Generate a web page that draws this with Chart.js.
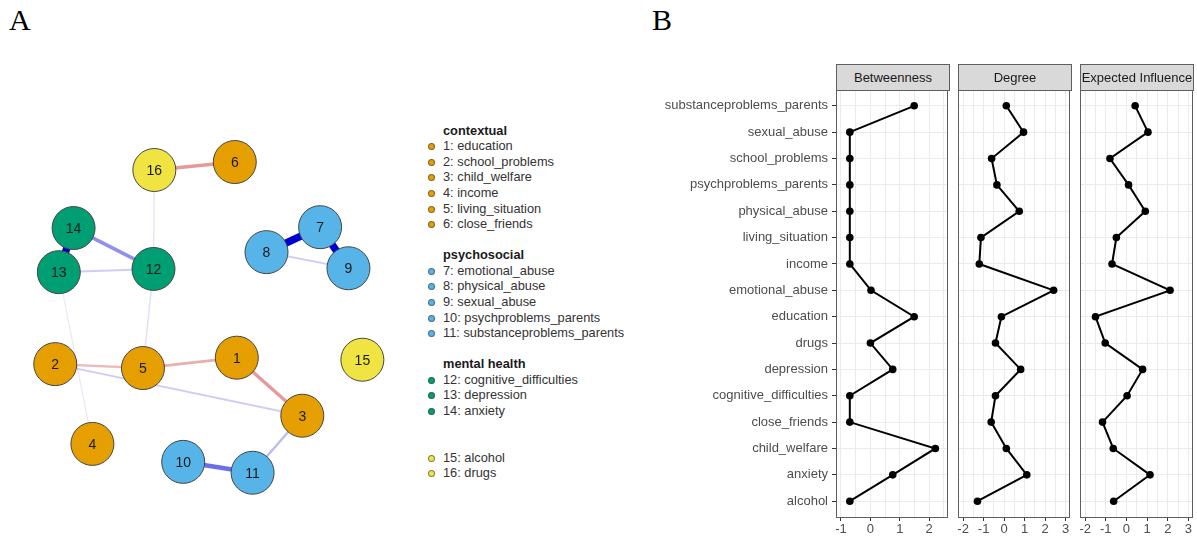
<!DOCTYPE html>
<html>
<head>
<meta charset="utf-8">
<script src="https://cdn.jsdelivr.net/npm/chart.js@4.4.1/dist/chart.umd.min.js"></script>
<style>
  body { margin: 0; background: #fff; }
  #page { position: relative; width: 1197px; height: 540px; overflow: hidden; font-family: "Liberation Sans", Arial, sans-serif; }
  canvas { position: absolute; }
  .letter { position: absolute; top: 5px; font-family: "Liberation Serif", "Times New Roman", serif; font-size: 30px; line-height: 30px; color: #000; }
  .strip { position: absolute; top: 64px; height: 27px; box-sizing: border-box; border: 1px solid #5f5f5f; background: #D9D9D9;
           display: flex; justify-content: center; align-items: center; overflow: hidden; white-space: nowrap; font-size: 13px; color: #1A1A1A; }
  .leg { position: absolute; left: 443px; height: 16px; line-height: 16px; font-size: 12.8px; color: #333; white-space: nowrap; }
  .leg b { color: #1a1a1a; }
  .dot { position: absolute; width: 5px; height: 5px; border-radius: 50%; }
</style>
</head>
<body>
<div id="page">
  <div class="letter" style="left:9px">A</div>
  <div class="letter" style="left:652px">B</div>
  <canvas id="netChart" width="420" height="420" style="left:0px; top:100px"></canvas>
  <canvas id="betChart" width="312" height="454" style="left:640px; top:86px"></canvas>
  <canvas id="degChart" width="122" height="454" style="left:952px; top:86px"></canvas>
  <canvas id="eiChart" width="123" height="454" style="left:1074px; top:86px"></canvas>
  <div class="strip" style="left:836px; width:114px">Betweenness</div>
  <div class="strip" style="left:958px; width:114px">Degree</div>
  <div class="strip" style="left:1080px; width:114px">Expected Influence</div>
</div>
<script>
// ---- panel A: network ----
const groupNames = ['contextual', 'psychosocial', 'mental health', ''];
const groupColors = ['#E69F00', '#56B4E9', '#009E73', '#F0E442'];
const nodeNames = ['education', 'school_problems', 'child_welfare', 'income', 'living_situation', 'close_friends',
  'emotional_abuse', 'physical_abuse', 'sexual_abuse', 'psychproblems_parents', 'substanceproblems_parents',
  'cognitive_difficulties', 'depression', 'anxiety', 'alcohol', 'drugs'];
const nodeGroup = [0, 0, 0, 0, 0, 0, 1, 1, 1, 1, 1, 2, 2, 2, 3, 3];
// layout coordinates of nodes 1..16
const nodeX = [0.158, -0.912, 0.544, -0.693, -0.395, 0.146, 0.649, 0.333, 0.816, -0.158, 0.251, -0.333, -0.891, -0.804, 0.898, -0.328];
const nodeY = [-0.281, -0.319, -0.623, -0.789, -0.342, 0.872, 0.488, 0.341, 0.246, -0.895, -0.959, 0.242, 0.223, 0.483, -0.293, 0.825];
// edges (node numbers) and partial correlation weights
const edgeFrom   = [7, 7, 13, 10, 12, 3, 8, 12, 2, 5, 12, 4, 6, 1, 1, 2];
const edgeTo     = [8, 9, 14, 11, 14, 11, 9, 13, 3, 12, 16, 13, 16, 3, 5, 5];
const edgeWeight = [0.55, 0.55, 0.55, 0.3, 0.22, 0.12, 0.08, 0.08, 0.08, 0.04, 0.03, 0.02, -0.2, -0.2, -0.15, -0.12];

// ---- panel B: centrality ----
const measures = ['alcohol', 'anxiety', 'child_welfare', 'close_friends', 'cognitive_difficulties', 'depression', 'drugs',
  'education', 'emotional_abuse', 'income', 'living_situation', 'physical_abuse', 'psychproblems_parents',
  'school_problems', 'sexual_abuse', 'substanceproblems_parents'];
const betweenness = [-0.7, 0.76, 2.21, -0.7, -0.7, 0.76, 0.0, 1.49, 0.02, -0.7, -0.7, -0.7, -0.7, -0.7, -0.7, 1.49];
const degree = [-1.30, 1.11, 0.11, -0.63, -0.42, 0.81, -0.42, -0.13, 2.42, -1.21, -1.13, 0.74, -0.35, -0.61, 0.95, 0.11];
const expectedInfluence = [-0.62, 1.14, -0.64, -1.16, 0.03, 0.78, -1.03, -1.50, 2.11, -0.70, -0.49, 0.91, 0.10, -0.80, 1.04, 0.42];

Chart.defaults.font.family = '"Liberation Sans", Arial, sans-serif';
Chart.defaults.font.size = 13;
Chart.defaults.color = '#4D4D4D';
Chart.defaults.animation = false;

// legend for the network, built from the node arrays
const page = document.getElementById('page');
let line = 0;
groupNames.forEach((g, gi) => {
  if (gi > 0) line++; // blank line between groups
  const head = document.createElement('div');
  head.className = 'leg';
  head.style.top = (122.7 + line * 15.57) + 'px';
  head.innerHTML = '<b>' + g + '</b>';
  page.appendChild(head);
  line++;
  nodeNames.forEach((n, i) => {
    if (nodeGroup[i] !== gi) return;
    const top = 122.7 + line * 15.57;
    const row = document.createElement('div');
    row.className = 'leg';
    row.style.top = top + 'px';
    row.textContent = (i + 1) + ': ' + n;
    page.appendChild(row);
    const dot = document.createElement('div');
    dot.className = 'dot';
    dot.style.left = '428px';
    dot.style.top = (top + 5) + 'px';
    dot.style.background = groupColors[gi];
    dot.style.border = '1px solid rgba(60,60,60,0.6)';
    page.appendChild(dot);
    line++;
  });
});

const maxW = Math.max(...edgeWeight.map(Math.abs));
const edgeSets = edgeFrom.map((a, k) => {
  const b = edgeTo[k];
  const w = edgeWeight[k];
  const alpha = Math.min(1, 0.06 + 0.94 * Math.abs(w) / maxW);
  const col = w > 0 ? 'rgba(0,0,213,' + alpha + ')' : 'rgba(191,0,0,' + alpha + ')';
  return {
    data: [{ x: nodeX[a - 1], y: nodeY[a - 1] }, { x: nodeX[b - 1], y: nodeY[b - 1] }],
    showLine: true,
    borderColor: col,
    borderWidth: 1 + 6.5 * Math.abs(w) / maxW,
    pointRadius: 0,
    clip: false,
    order: 1
  };
});

const nodeLabels = {
  id: 'nodeLabels',
  afterDatasetsDraw(chart) {
    const meta = chart.getDatasetMeta(chart.data.datasets.length - 1);
    const c = chart.ctx;
    c.save();
    c.font = '14px "Liberation Sans", Arial, sans-serif';
    c.fillStyle = '#1a1a1a';
    c.textAlign = 'center';
    c.textBaseline = 'middle';
    meta.data.forEach((pt, i) => c.fillText(String(i + 1), pt.x, pt.y + 1));
    c.restore();
  }
};

new Chart(document.getElementById('netChart'), {
  type: 'scatter',
  data: {
    datasets: edgeSets.concat([{
      data: nodeX.map((x, i) => ({ x: x, y: nodeY[i] })),
      pointRadius: 21.5,
      pointBackgroundColor: nodeGroup.map(g => groupColors[g]),
      pointBorderColor: '#444',
      pointBorderWidth: 1,
      clip: false,
      order: 0
    }])
  },
  options: {
    responsive: false,
    events: [],
    layout: { padding: 0 },
    plugins: { legend: { display: false }, tooltip: { enabled: false } },
    scales: {
      x: { display: false, min: -1.105, max: 1.105 },
      y: { display: false, min: -1.105, max: 1.105 }
    }
  },
  plugins: [nodeLabels]
});

// ---- centrality panels ----
const panelBorder = {
  id: 'panelBorder',
  afterDraw(chart) {
    const a = chart.chartArea;
    const c = chart.ctx;
    c.save();
    c.strokeStyle = '#5f5f5f';
    c.lineWidth = 1;
    c.strokeRect(Math.round(a.left) + 0.5, Math.round(a.top) + 0.5, Math.round(a.right - a.left) - 1, Math.round(a.bottom - a.top));
    c.restore();
  }
};

function centralityChart(id, values, xMin, xMax, showLabels, padding) {
  return new Chart(document.getElementById(id), {
    type: 'scatter',
    data: {
      datasets: [{
        data: values.map((v, i) => ({ x: v, y: i + 1 })),
        showLine: true,
        borderColor: '#000',
        borderWidth: 2,
        pointRadius: 3.8,
        pointBackgroundColor: '#000',
        pointBorderWidth: 0,
        clip: false
      }]
    },
    options: {
      responsive: false,
      events: [],
      layout: { padding: padding },
      plugins: { legend: { display: false }, tooltip: { enabled: false } },
      scales: {
        x: {
          min: xMin, max: xMax,
          afterBuildTicks: s => {
            const t = [];
            for (let v = Math.ceil(xMin * 2) / 2; v <= xMax; v += 0.5) t.push({ value: v });
            s.ticks = t;
          },
          afterFit: s => { s.height = 23; },
          border: { display: false },
          grid: {
            color: '#EBEBEB',
            lineWidth: 1,
            tickLength: 4,
            tickColor: ctx => Number.isInteger(ctx.tick.value) ? '#333' : 'rgba(0,0,0,0)'
          },
          ticks: {
            autoSkip: false, maxRotation: 0, padding: 1,
            callback: v => Number.isInteger(v) ? String(v) : ''
          }
        },
        y: {
          min: 0.4, max: 16.6,
          afterBuildTicks: s => { s.ticks = measures.map((m, i) => ({ value: i + 1 })); },
          afterFit: s => { s.width = showLabels ? 196 : 0; s.paddingTop = 0; s.paddingBottom = 0; },
          border: { display: false },
          grid: {
            color: '#EBEBEB',
            lineWidth: 1,
            drawTicks: showLabels,
            tickLength: 4,
            tickColor: '#333'
          },
          ticks: {
            display: showLabels, autoSkip: false, padding: 4,
            callback: v => measures[v - 1]
          }
        }
      }
    },
    plugins: [panelBorder]
  });
}

centralityChart('betChart', betweenness, -1.17, 2.64, true, { left: 0, right: 3, top: 4, bottom: 0 });
centralityChart('degChart', degree, -2.25, 3.22, false, { left: 6, right: 3, top: 4, bottom: 0 });
centralityChart('eiChart', expectedInfluence, -2.25, 3.22, false, { left: 6, right: 4, top: 4, bottom: 0 });
</script>
</body>
</html>
